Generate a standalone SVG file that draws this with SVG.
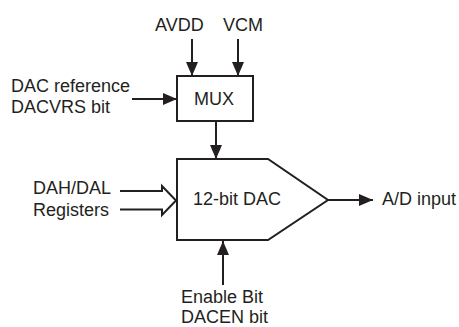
<svg xmlns="http://www.w3.org/2000/svg" width="459" height="327" viewBox="0 0 459 327">
<style>
text{font-family:"Liberation Sans",Arial,sans-serif;font-size:18px;fill:#231f20}
.box{fill:#fff;stroke:#231f20;stroke-width:2}
.wire{fill:none;stroke:#231f20;stroke-width:2}
</style>
<defs>
<marker id="ah" markerUnits="userSpaceOnUse" markerWidth="14" markerHeight="12" refX="14" refY="6" orient="auto">
<path d="M0,0 L14,6 L0,12 z" fill="#231f20"/>
</marker>
</defs>
<rect width="459" height="327" fill="#fff"/>
<g id="connectors">
<line class="wire" x1="192" y1="39" x2="192" y2="76" marker-end="url(#ah)"/>
<line class="wire" x1="238" y1="39" x2="238" y2="76" marker-end="url(#ah)"/>
<line class="wire" x1="132" y1="99" x2="177" y2="99" marker-end="url(#ah)"/>
<line class="wire" x1="216" y1="121" x2="216" y2="159" marker-end="url(#ah)"/>
<line class="wire" x1="223" y1="285" x2="223" y2="241" marker-end="url(#ah)"/>
<line class="wire" x1="328" y1="200" x2="373" y2="200" marker-end="url(#ah)"/>
<path class="wire" d="M120,191 L162,191 L162,186 L176,200.5 L162,215 L162,209.5 L120,209.5"/>
</g>
<g id="avdd"><text x="155" y="31">AVDD</text></g>
<g id="vcm"><text x="223" y="31">VCM</text></g>
<g id="dacref"><text x="11" y="92">DAC reference</text><text x="11" y="113">DACVRS bit</text></g>
<g id="mux"><rect class="box" x="177" y="76" width="76" height="45"/><text x="194" y="105">MUX</text></g>
<g id="dac"><path class="box" d="M177,159 L268,159 L328,200 L268,240 L177,240 Z"/><text x="193" y="205">12-bit DAC</text></g>
<g id="regs"><text x="33" y="194">DAH/DAL</text><text x="33" y="216">Registers</text></g>
<g id="adin"><text x="382" y="205">A/D input</text></g>
<g id="enable"><text x="181" y="303">Enable Bit</text><text x="181" y="323">DACEN bit</text></g>
</svg>
